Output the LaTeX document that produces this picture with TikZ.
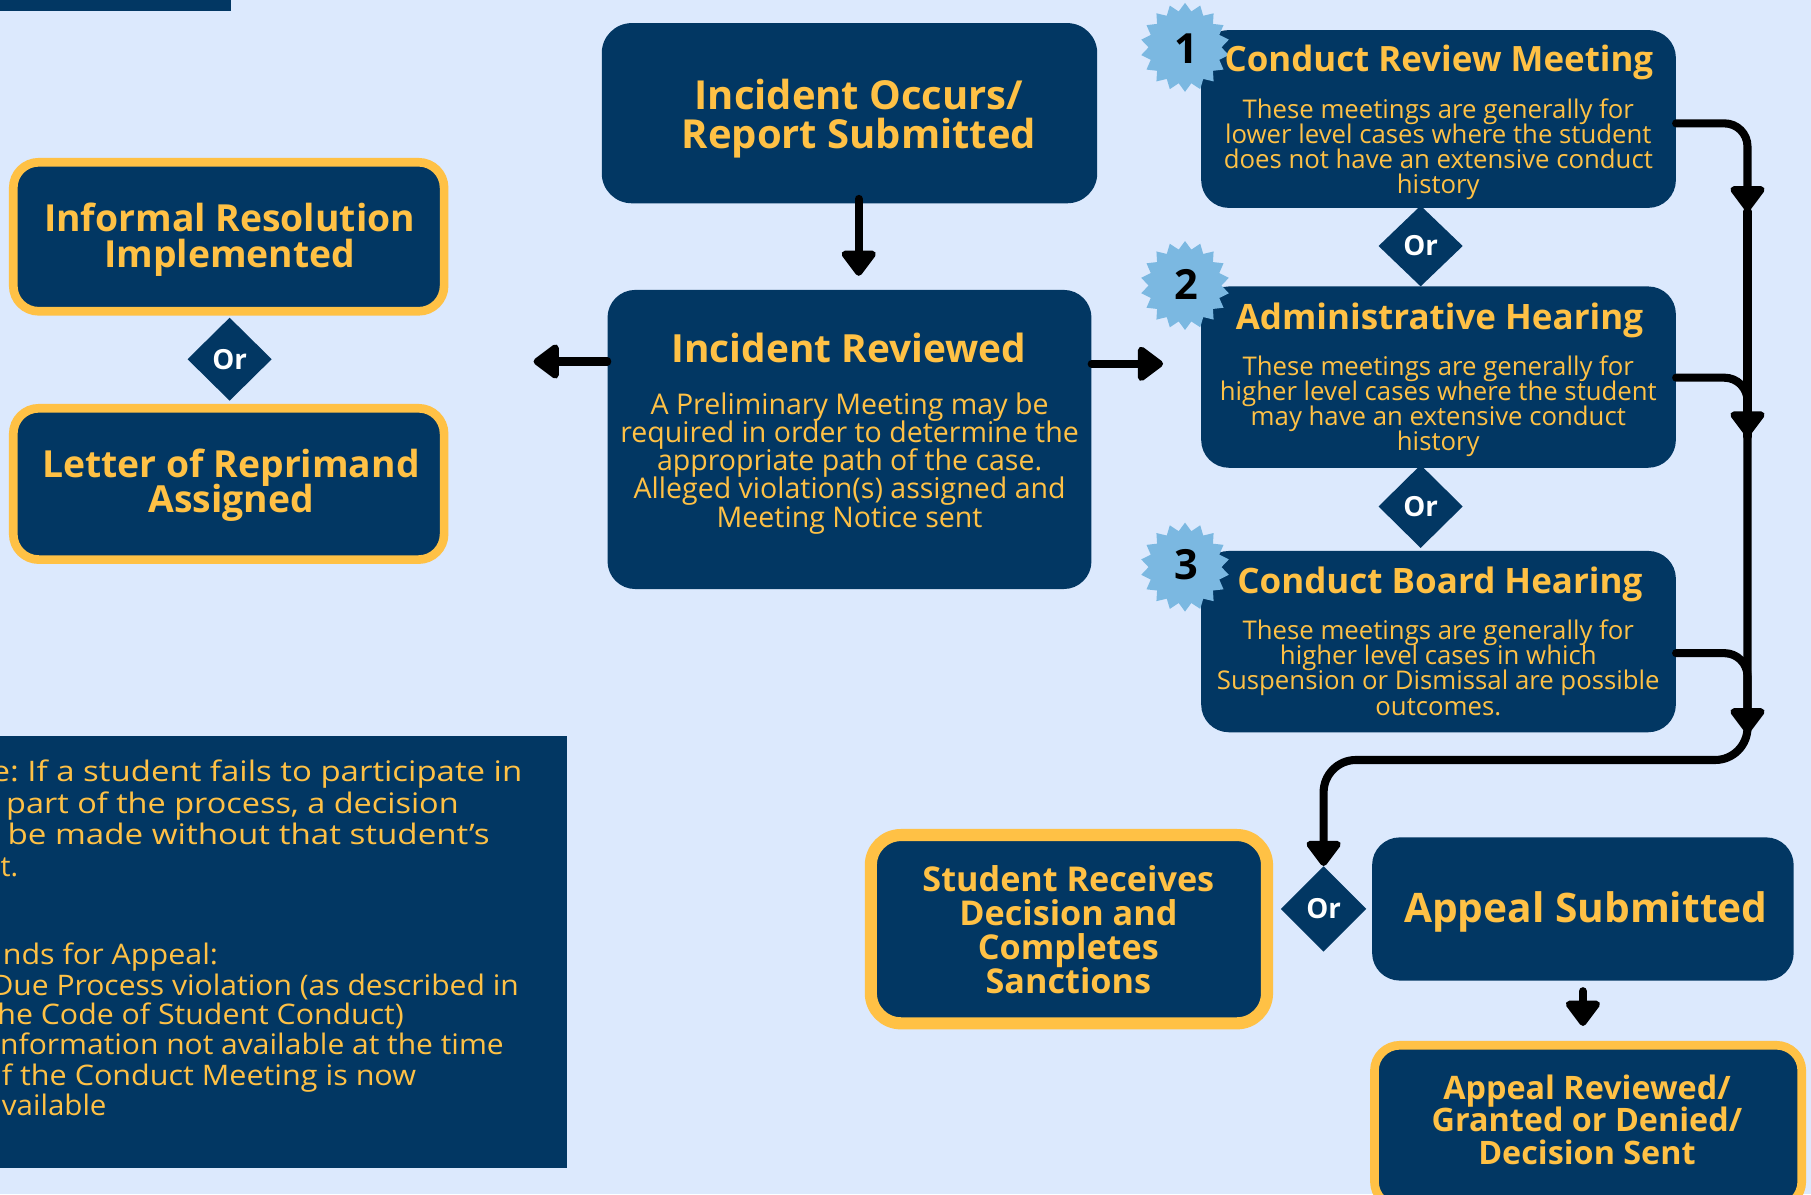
\documentclass[tikz,border=0pt]{standalone}
\usepackage{fontspec}
\setmainfont{Open Sans}
\usetikzlibrary{shapes.geometric,arrows.meta,calc}
\definecolor{bg}{RGB}{220,233,253}
\definecolor{navy}{RGB}{2,55,99}
\definecolor{gold}{RGB}{255,193,69}
\definecolor{starblue}{RGB}{123,184,225}
\newcommand\fs[1]{\fontsize{#1}{#1}\selectfont}
\newcommand\txtlines[6]{\foreach \xx [count=\i] in {#6} {\node[#1] (#2\i) at (#3,{#4+(\i-1)*#5}) {\xx};}}
\newcommand\fitw[2]{\resizebox{#1pt}{\height}{#2}}
\tikzset{
  box/.style={fill=navy, rounded corners=24pt, inner sep=0},
  goldbox/.style={box, draw=gold, line width=7.5pt},
  orshape/.style={diamond, fill=navy, inner sep=0, text=white, font=\bfseries\fs{24}},
  badge/.style={star, star points=18, star point ratio=1.22, fill=starblue, minimum size=77pt, inner sep=0},
  numtxt/.style={inner sep=0, anchor=base, text=black, font=\bfseries\fs{36}},
  ttl/.style={text=gold, inner sep=0, anchor=base, font=\bfseries\fs{#1}},
  bod/.style={text=gold, inner sep=0, anchor=base, font=\fs{#1}},
  notetxt/.style={text=gold, inner sep=0, anchor=base west, font=\frenchspacing\fs{24.5}},
  conn/.style={line width=7pt, line cap=round, line join=round, draw=black},
  arr/.style={conn, -{Triangle[length=24pt,width=34pt,round]}},
}
\begin{document}
\begin{tikzpicture}[x=1pt,y=-1pt]
\fill[bg] (0,0) rectangle (1568,1034);
\useasboundingbox (0,0) rectangle (1568,1034);

% plain panels
\node[fill=navy, inner sep=0, minimum width=210pt, minimum height=16pt, anchor=south west] (bar) at (-10,10) {};
\node[fill=navy, inner sep=0, minimum width=506pt, minimum height=374pt, anchor=north west] (note) at (-15,637) {};

% boxes
\node[box, rounded corners=26pt, minimum width=429pt, minimum height=156pt] (oc) at (735.5,98) {};
\node[box, minimum width=419pt, minimum height=259pt] (ir) at (735.5,380.5) {};
\node[goldbox, rounded corners=22pt, minimum width=373pt, minimum height=129pt] (ires) at (198,205) {};
\node[goldbox, rounded corners=22pt, minimum width=373pt, minimum height=131pt] (lor) at (198,419) {};
\node[box, minimum width=411pt, minimum height=154pt] (crm) at (1245.5,103) {};
\node[box, minimum width=411pt, minimum height=157pt] (ah) at (1245.5,326.5) {};
\node[box, minimum width=411pt, minimum height=157pt] (cbh) at (1245.5,555.5) {};
\node[goldbox, line width=10.5pt, rounded corners=26pt, minimum width=343pt, minimum height=163pt] (srd) at (925.5,804.5) {};
\node[box, minimum width=365pt, minimum height=124pt] (as) at (1370.5,787) {};
\node[goldbox, rounded corners=22pt, minimum width=370pt, minimum height=140pt] (ar) at (1375,975) {};

% or diamonds
\node[orshape, minimum width=73pt, minimum height=72pt] (or1) at (198.8,311) {Or};
\node[orshape, minimum width=73pt, minimum height=70pt] (or2) at (1230,213) {Or};
\node[orshape, minimum width=73pt, minimum height=72pt] (or3) at (1230,438.5) {Or};
\node[orshape, minimum width=74pt, minimum height=74pt] (or4) at (1146,787) {Or};

% badges
\node[badge] (st1) at (1026,41) {};
\node[badge] (st2) at (1026,247.2) {};
\node[badge] (st3) at (1026,491) {};
\node[numtxt] (n1) at (1027,54.8) {1};
\node[numtxt] (n2) at (1027,259.7) {2};
\node[numtxt] (n3) at (1027,502) {3};

% texts
\txtlines{ttl=34.6}{octx}{743.7}{94.4}{34.2}{Incident Occurs/,Report Submitted}
\node[ttl=33.6] (irt) at (735,313.8) {Incident Reviewed};
\txtlines{bod=24.7}{irb}{735.6}{358.5}{24.5}{A Preliminary Meeting may be,required in order to determine the,appropriate path of the case.,Alleged violation(s) assigned and,Meeting Notice sent}
\txtlines{ttl=32.3}{irestx}{198.8}{200.5}{30.8}{Informal Resolution,Implemented}
\txtlines{ttl=32.3}{lortx}{200}{413.5}{30.5}{Letter of Reprimand,Assigned}
\node[ttl=30.2] (crmt) at (1245.8,62) {Conduct Review Meeting};
\txtlines{bod=22.3}{crmb}{1245.3}{102.5}{21.6}{These meetings are generally for,lower level cases where the student,does not have an extensive conduct,history}
\node[ttl=30.3] (aht) at (1246.3,285) {Administrative Hearing};
\txtlines{bod=22.3}{ahb}{1245.3}{325.5}{21.4}{These meetings are generally for,higher level cases where the student,may have an extensive conduct,history}
\node[ttl=30.3] (cbht) at (1246.7,513.7) {Conduct Board Hearing};
\txtlines{bod=22.3}{cbhb}{1245.3}{554}{21.7}{These meetings are generally for,higher level cases in which,Suspension or Dismissal are possible,outcomes.}
\txtlines{ttl=29.6}{srdtx}{925}{772}{29.3}{Student Receives,Decision and,Completes,Sanctions}
\node[ttl=35.2] (astx) at (1373,798.8) {Appeal Submitted};
\txtlines{ttl=28}{artx}{1374}{951.8}{28}{Appeal Reviewed/,Granted or Denied/,Decision Sent}

% note text
\node[notetxt] (nt1) at (-7.5,676.8) {\fitw{459.5}{e: If a student fails to participate in}};
\node[notetxt] (nt2) at (5.2,704.2) {\fitw{391.8}{part of the process, a decision}};
\node[notetxt] (nt3) at (6.4,731.6) {\fitw{417.2}{be made without that student’s}};
\node[notetxt, anchor=base east] (nt4) at (15.9,759) {t.};
\node[notetxt] (nt5) at (2.3,835.5) {\fitw{186.3}{nds for Appeal:}};
\node[notetxt] (nt6) at (-7.5,861.5) {\fitw{456.5}{Due Process violation (as described in}};
\node[notetxt] (nt7) at (-2.4,887.4) {\fitw{351.8}{he Code of Student Conduct)}};
\node[notetxt] (nt8) at (0,913.4) {\fitw{436}{nformation not available at the time}};
\node[notetxt] (nt9) at (1.5,939.4) {\fitw{358.5}{f the Conduct Meeting is now}};
\node[notetxt] (nt10) at (1.5,965.4) {\fitw{90.5}{vailable}};

% connectors
\coordinate (lt) at (462,313);
\coordinate (rt) at (1007,315);
\coordinate (b1) at (1513,183);
\coordinate (b2) at (1513,378);
\coordinate (b3) at (1513,635);
\coordinate (m) at (1513,658);

\draw[arr] ($(oc.south)+(8,-4)$) -- ($(ir.north)+(8,-12)$);
\draw[arr] (ir.west |- lt) -- (lt);
\draw[arr] (ir.east |- rt) -- (rt);

\draw[arr, rounded corners=28pt] (b2) -- (m) -- (m -| or4.north) -- (or4.north);
\draw[conn] (b1) -- (b2);
\draw[arr, rounded corners=20pt] (crm.east |- 0,106.8) -- (b1 |- 0,106.8) -- (b1);
\draw[arr, rounded corners=20pt] (ah.east |- 0,327) -- (b2 |- 0,327) -- (b2);
\draw[arr, rounded corners=20pt] (cbh.east |- 0,565.5) -- (b3 |- 0,565.5) -- (b3);

\draw[arr] ($(as.south)+(0,9)$) -- ($(as.south |- ar.north)+(0,-13)$);
\end{tikzpicture}
\end{document}
